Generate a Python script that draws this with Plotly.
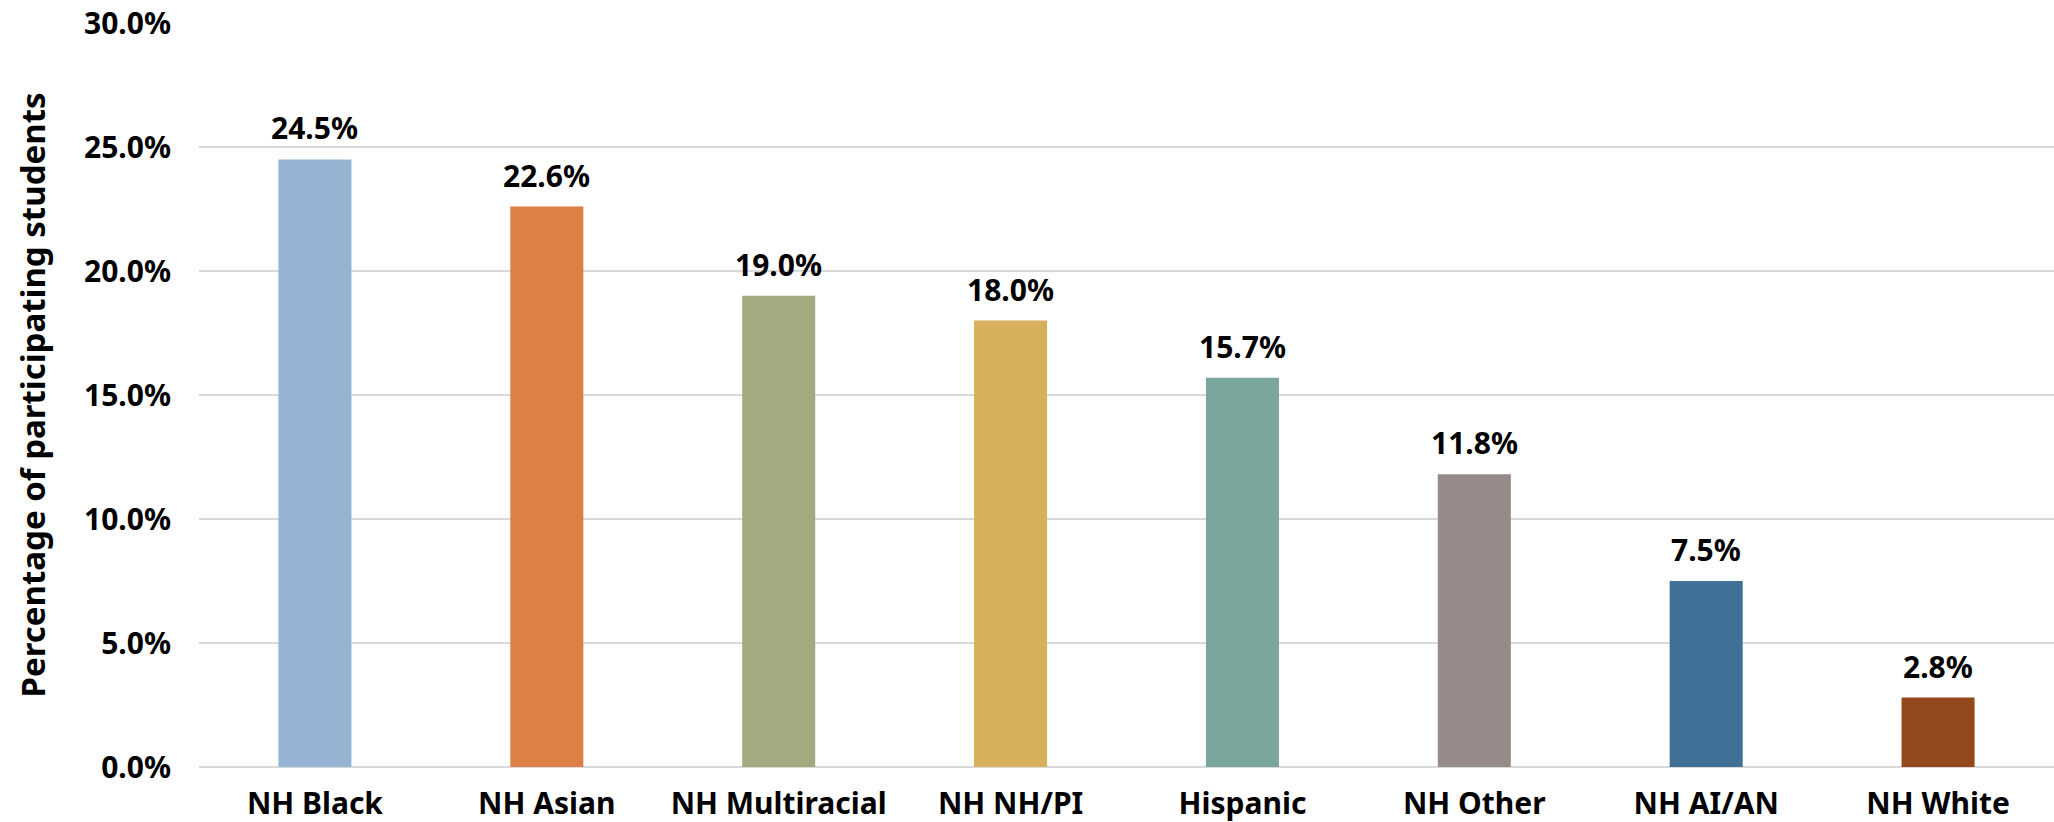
import plotly.graph_objects as go

# Share of participating students by race/ethnicity
groups = ["NH Black", "NH Asian", "NH Multiracial", "NH NH/PI",
          "Hispanic", "NH Other", "NH AI/AN", "NH White"]
shares = [24.5, 22.6, 19.0, 18.0, 15.7, 11.8, 7.5, 2.8]
bar_colors = ["#95B3D3", "#DD7F47", "#A4AA7F", "#D7B05C",
              "#7BA69D", "#968B89", "#417097", "#93491C"]
y_ticks = [0, 5, 10, 15, 20, 25, 30]
y_tick_labels = [f"{v:.1f}%" for v in y_ticks]

FONT = "Noto Sans"
LABEL_SIZE = 30

fig = go.Figure(
    go.Bar(
        x=groups,
        y=shares,
        marker=dict(color=bar_colors, line=dict(width=0)),
        hoverinfo="skip",
    )
)

# value labels above each bar
for g, v in zip(groups, shares):
    fig.add_annotation(
        x=g, y=v, xref="x", yref="y",
        text=f"{v:.1f}%",
        showarrow=False,
        yanchor="bottom",
        yshift=9,
        font=dict(family=FONT, size=LABEL_SIZE, color="#000000", weight="bold"),
    )

fig.update_layout(
    width=2054,
    height=822,
    margin=dict(l=199, r=0, t=23, b=55),
    paper_bgcolor="white",
    plot_bgcolor="white",
    bargap=0.685,
    showlegend=False,
    font=dict(family=FONT, size=LABEL_SIZE, color="#000000", weight="bold"),
)

fig.update_yaxes(
    range=[0, 30],
    tickvals=y_ticks,
    ticktext=y_tick_labels,
    showgrid=True,
    gridcolor="#D9D9D9",
    gridwidth=2,
    zeroline=True,
    zerolinecolor="#D9D9D9",
    zerolinewidth=2,
    showline=False,
    ticks="",
    automargin=False,
    ticklabelstandoff=27,
    tickfont=dict(family=FONT, size=LABEL_SIZE, color="#000000", weight="bold"),
    title=dict(
        text="Percentage of participating students",
        font=dict(family=FONT, size=33, color="#000000", weight="bold"),
        standoff=28,
    ),
)

fig.update_xaxes(
    showgrid=False,
    showline=False,
    ticks="",
    automargin=False,
    ticklabelstandoff=16,
    tickfont=dict(family=FONT, size=LABEL_SIZE, color="#000000", weight="bold"),
)

fig.write_html("out.html")
